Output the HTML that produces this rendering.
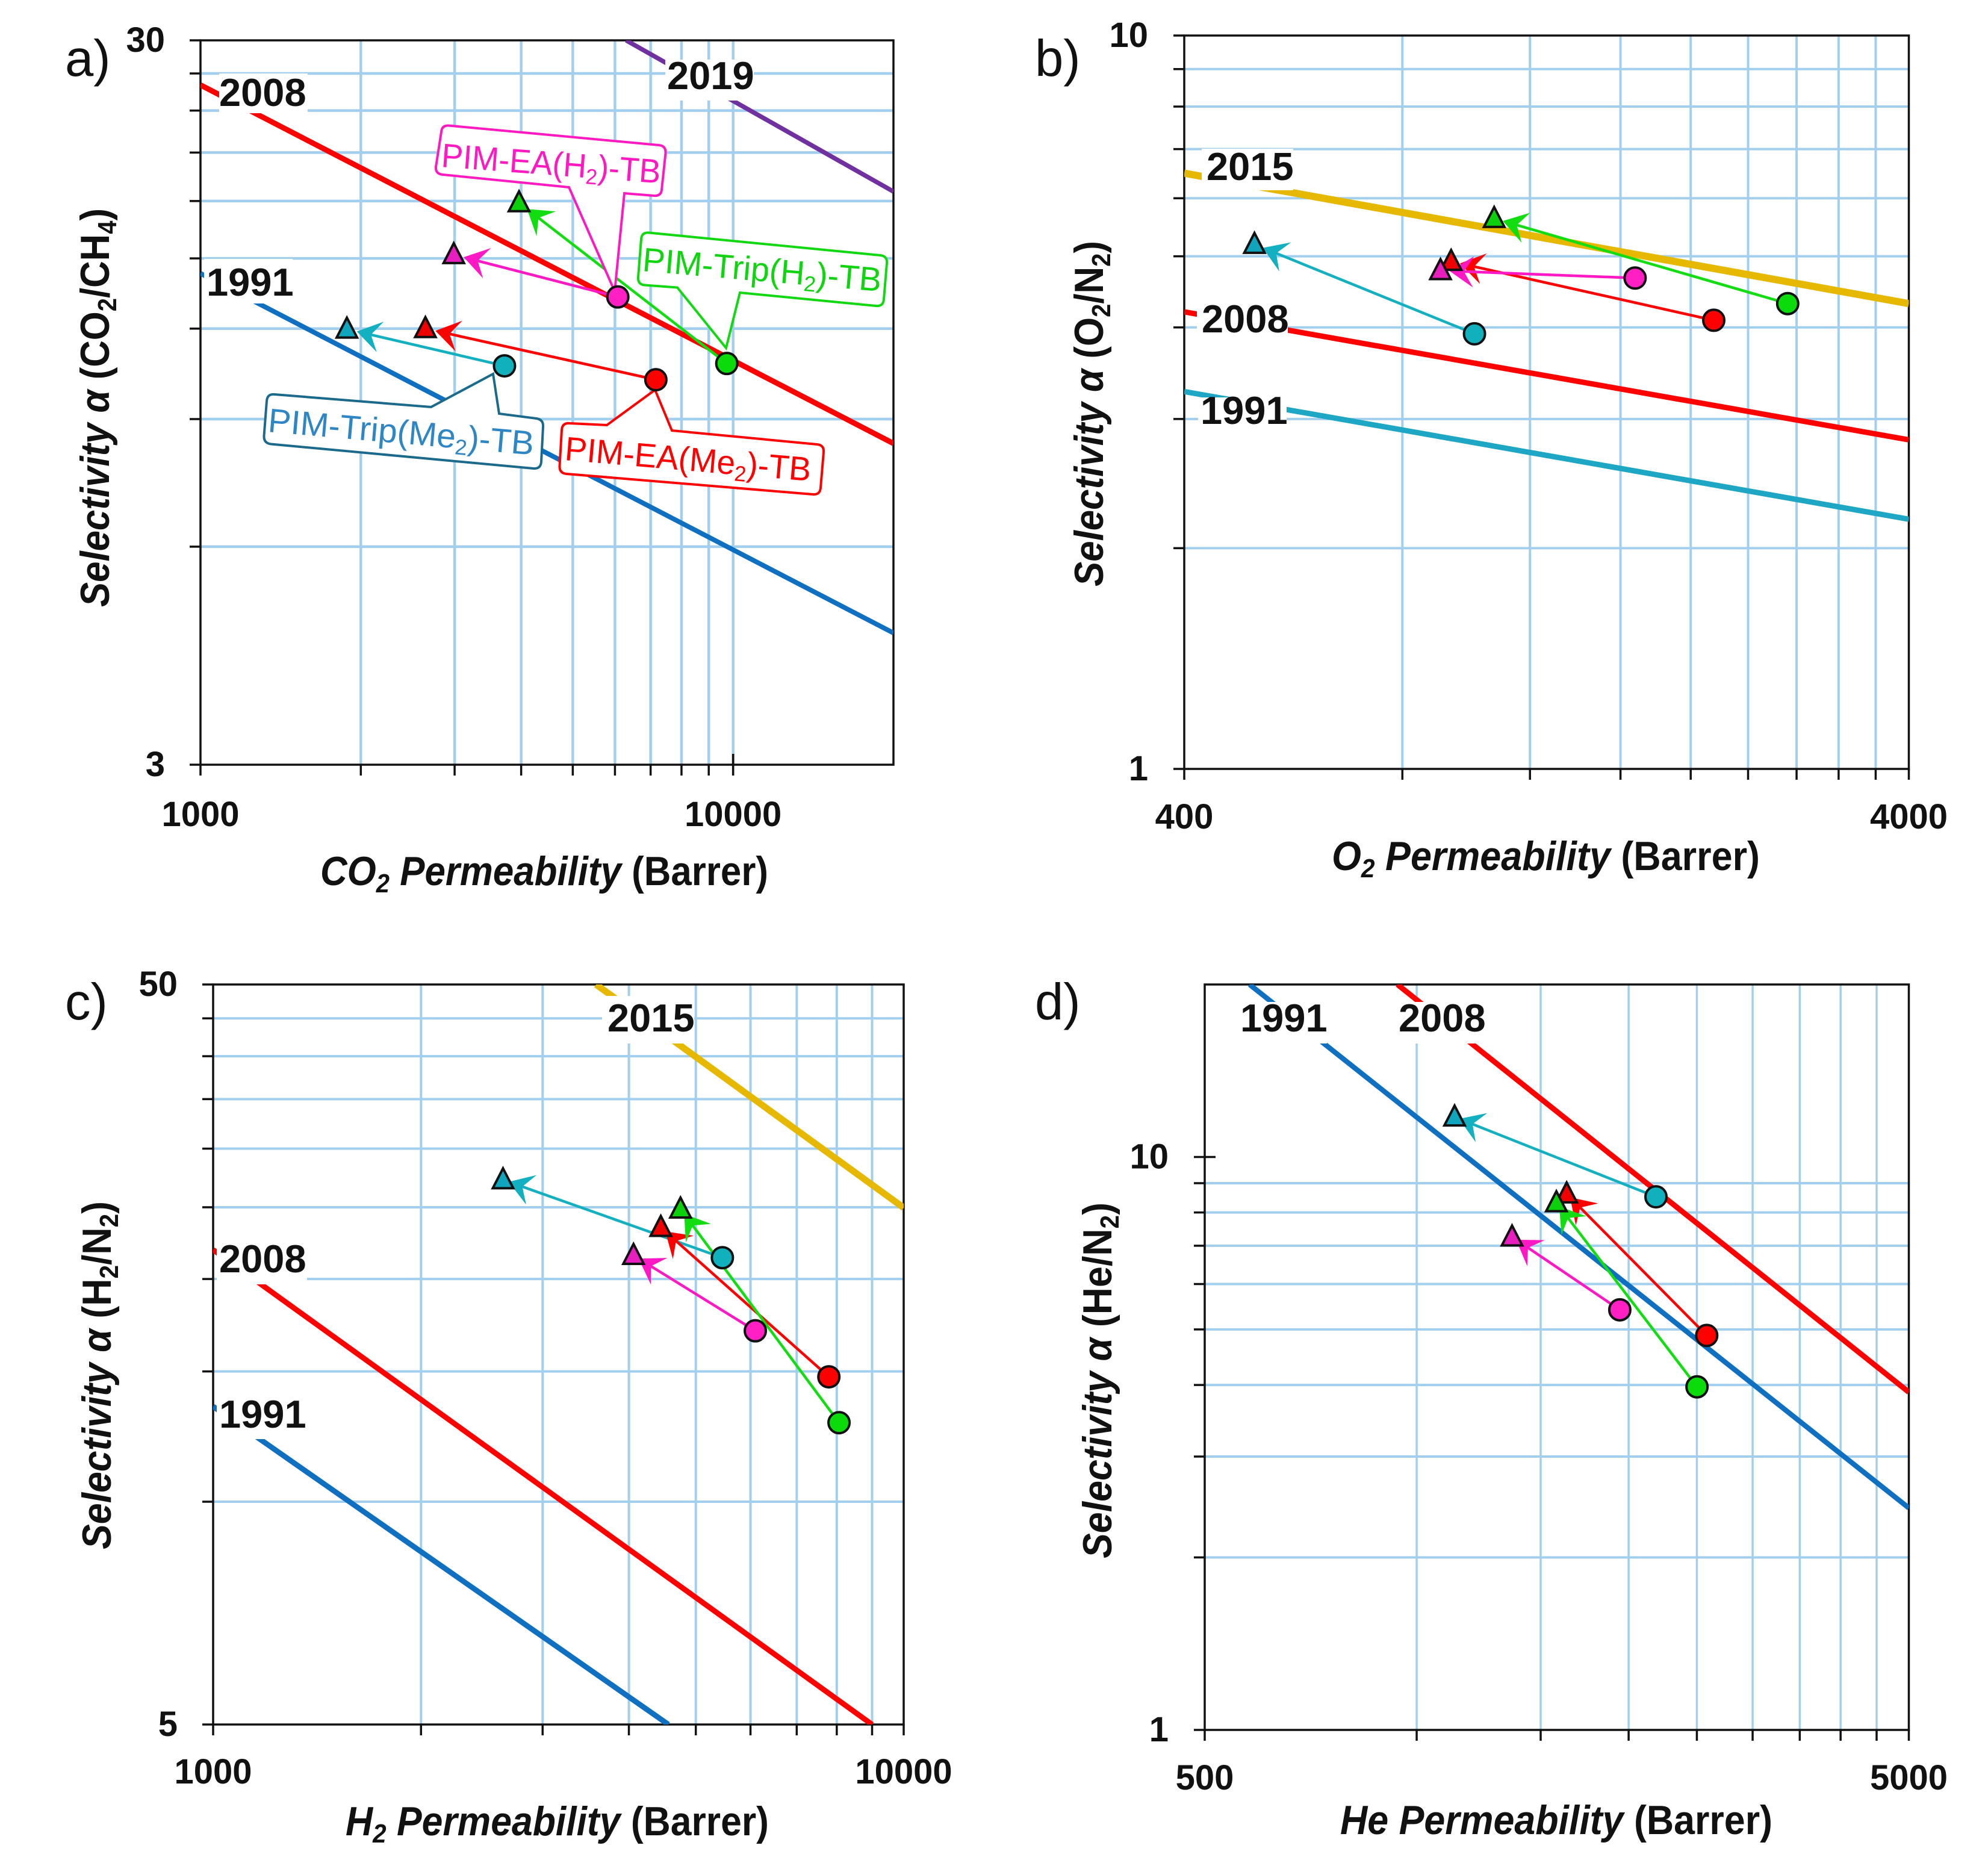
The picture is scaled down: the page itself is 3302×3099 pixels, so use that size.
<!DOCTYPE html>
<html>
<head>
<meta charset="utf-8">
<title>Permeability vs selectivity plots</title>
<style>
html,body{margin:0;padding:0;background:#fff;}
svg{display:block;}
text{font-family:"Liberation Sans",sans-serif;fill:#111;}
.tick{font-weight:bold;font-size:58px;}
.year{font-weight:bold;font-size:65px;}
.letter{font-size:85px;fill:#111;}
.title{font-weight:bold;font-size:68px;}
.title .it{font-style:italic;}
.call{font-size:56px;}
</style>
</head>
<body>
<svg xmlns="http://www.w3.org/2000/svg" width="3302" height="3099" viewBox="0 0 3302 3099">
<defs>
<clipPath id="clip-a"><rect x="333" y="67" width="1151" height="1203"/></clipPath>
<clipPath id="clip-b"><rect x="1967" y="59" width="1203.5" height="1218"/></clipPath>
<clipPath id="clip-c"><rect x="354" y="1635" width="1147" height="1229"/></clipPath>
<clipPath id="clip-d"><rect x="2001" y="1635" width="1169.5" height="1238"/></clipPath>
</defs>
<rect x="0" y="0" width="3302" height="3099" fill="#fff"/>

<!-- PANEL A -->
<g>
<g id="a-grid"></g>
<g id="a-lines" clip-path="url(#clip-a)"></g>
<g>
<rect x="1105" y="99" width="147" height="68" fill="#fff"/>
<rect x="364" y="122" width="147" height="66" fill="#fff"/>
<rect x="339" y="430" width="147" height="74" fill="#fff"/>
<text class="year" x="1108" y="148">2019</text>
<text class="year" x="364" y="176">2008</text>
<text class="year" x="343" y="491">1991</text>
</g>
<g id="a-arrows"></g>
<g>
<path d="M746,208.6 L1094,241 Q1106,242 1105.5,254 L1099,315 Q1098,326 1086,325 L1037,321 L1021,484 L945,311 L735,290 Q723,288.6 724,277 L733,219 Q734,207.6 746,208.6Z" fill="#fff" stroke="#ff19c0" stroke-width="4"/>
<text class="call" transform="translate(732,277) rotate(4.3)" textLength="365" lengthAdjust="spacingAndGlyphs" style="fill:#ff19c0">PIM-EA(H<tspan dy="10" font-size="36">2</tspan><tspan dy="-10">)-TB</tspan></text>
<path d="M1078,386.5 L1462,424 Q1474,425 1473,437 L1468,497 Q1467,509 1455,508 L1229,486 L1206,578 L1125,477.5 L1071,473.5 Q1059,472.5 1060,460 L1065,397 Q1066,385.5 1078,386.5Z" fill="#fff" stroke="#11d811" stroke-width="4"/>
<text class="call" transform="translate(1066,450) rotate(4.9)" textLength="398" lengthAdjust="spacingAndGlyphs" style="fill:#0fd40f">PIM-Trip(H<tspan dy="10" font-size="36">2</tspan><tspan dy="-10">)-TB</tspan></text>
<path d="M456,655 L716,676 L819,621 L829,687 L891,695 Q903,697 902,709 L899,767 Q898,779 886,778 L450,737.5 Q438,736 438.5,724 L443,666 Q444,654 456,655Z" fill="#fff" stroke="#1b6a8c" stroke-width="4"/>
<text class="call" transform="translate(444,717) rotate(5)" textLength="443" lengthAdjust="spacingAndGlyphs" style="fill:#2f86c5">PIM-Trip(Me<tspan dy="10" font-size="36">2</tspan><tspan dy="-10">)-TB</tspan></text>
<path d="M946,703 L1008,706 L1088,647.5 L1116,715 L1357,738 Q1369,739 1368,751 L1363,810 Q1362,822 1350,821 L941,787 Q929,786 929.5,774 L933,714 Q934,702 946,703Z" fill="#fff" stroke="#ff0000" stroke-width="4"/>
<text class="call" transform="translate(937,764) rotate(4.9)" textLength="410" lengthAdjust="spacingAndGlyphs" style="fill:#ff0000">PIM-EA(Me<tspan dy="10" font-size="36">2</tspan><tspan dy="-10">)-TB</tspan></text>
</g>
<g id="a-markers"></g>
<text class="letter" x="108" y="126">a)</text>
<text class="title" x="532" y="1470" textLength="744" lengthAdjust="spacingAndGlyphs"><tspan class="it">CO</tspan><tspan class="it" dy="12" font-size="44">2</tspan><tspan class="it" dy="-12"> Permeability</tspan> (Barrer)</text>
<text class="title" transform="translate(181,1008) rotate(-90)" textLength="662" lengthAdjust="spacingAndGlyphs"><tspan class="it">Selectivity α</tspan> (CO<tspan dy="12" font-size="44">2</tspan><tspan dy="-12">/CH</tspan><tspan dy="12" font-size="44">4</tspan><tspan dy="-12">)</tspan></text>
</g>

<!-- PANEL B -->
<g>
<g id="b-grid"></g>
<g id="b-lines" clip-path="url(#clip-b)"></g>
<g>
<rect x="1996" y="247" width="152" height="69" fill="#fff"/>
<rect x="1988" y="509" width="151" height="60" fill="#fff"/>
<rect x="1990" y="660" width="147" height="57" fill="#fff"/>
<text class="year" x="2004" y="299">2015</text>
<text class="year" x="1996" y="552">2008</text>
<text class="year" x="1994" y="704">1991</text>
</g>
<g id="b-arrows"></g>
<g id="b-markers"></g>
<text class="letter" x="1719" y="126">b)</text>
<text class="title" x="2212" y="1445" textLength="711" lengthAdjust="spacingAndGlyphs"><tspan class="it">O</tspan><tspan class="it" dy="12" font-size="44">2</tspan><tspan class="it" dy="-12"> Permeability</tspan> (Barrer)</text>
<text class="title" transform="translate(1832,974) rotate(-90)" textLength="574" lengthAdjust="spacingAndGlyphs"><tspan class="it">Selectivity α</tspan> (O<tspan dy="12" font-size="44">2</tspan><tspan dy="-12">/N</tspan><tspan dy="12" font-size="44">2</tspan><tspan dy="-12">)</tspan></text>
</g>

<!-- PANEL C -->
<g>
<g id="c-grid"></g>
<g id="c-lines" clip-path="url(#clip-c)"></g>
<g>
<rect x="1000" y="1654" width="153" height="79" fill="#fff"/>
<rect x="360" y="2069" width="150" height="64" fill="#fff"/>
<rect x="360" y="2326" width="150" height="64" fill="#fff"/>
<text class="year" x="1009" y="1713">2015</text>
<text class="year" x="364" y="2113">2008</text>
<text class="year" x="364" y="2371">1991</text>
</g>
<g id="c-arrows"></g>
<g id="c-markers"></g>
<text class="letter" x="108" y="1693">c)</text>
<text class="title" x="574" y="3048" textLength="703" lengthAdjust="spacingAndGlyphs"><tspan class="it">H</tspan><tspan class="it" dy="12" font-size="44">2</tspan><tspan class="it" dy="-12"> Permeability</tspan> (Barrer)</text>
<text class="title" transform="translate(184,2573) rotate(-90)" textLength="578" lengthAdjust="spacingAndGlyphs"><tspan class="it">Selectivity α</tspan> (H<tspan dy="12" font-size="44">2</tspan><tspan dy="-12">/N</tspan><tspan dy="12" font-size="44">2</tspan><tspan dy="-12">)</tspan></text>
</g>

<!-- PANEL D -->
<g>
<g id="d-grid"></g>
<g id="d-lines" clip-path="url(#clip-d)"></g>
<g>
<rect x="2056" y="1664" width="148" height="69" fill="#fff"/>
<rect x="2319" y="1664" width="147" height="69" fill="#fff"/>
<text class="year" x="2060" y="1713">1991</text>
<text class="year" x="2323" y="1713">2008</text>
</g>
<g id="d-arrows"></g>
<g id="d-markers"></g>
<text class="letter" x="1719" y="1693">d)</text>
<text class="title" x="2226" y="3046" textLength="718" lengthAdjust="spacingAndGlyphs"><tspan class="it">He Permeability</tspan> (Barrer)</text>
<text class="title" transform="translate(1846,2588) rotate(-90)" textLength="591" lengthAdjust="spacingAndGlyphs"><tspan class="it">Selectivity α</tspan> (He/N<tspan dy="12" font-size="44">2</tspan><tspan dy="-12">)</tspan></text>
</g>
</svg>

<script>
// Series order everywhere: Trip(Me2), EA(Me2), EA(H2), Trip(H2)
const seriesNames = ['pim-trip-me2', 'pim-ea-me2', 'pim-ea-h2', 'pim-trip-h2'];

// ---- Panel a: CO2/CH4 ----
const aXGrid = [2000, 3000, 4000, 5000, 6000, 7000, 8000, 9000, 10000];
const aYGrid = [27, 24, 21, 18, 15, 12, 9, 6];
const aXLabels = [1000, 10000];
const aYLabels = [30, 3];
const a2019X = [6297, 20000];
const a2019Y = [30, 18.55];
const a2008X = [1000, 20000];
const a2008Y = [26.03, 8.33];
const a1991X = [1000, 20000];
const a1991Y = [14.3, 4.56];
const aCircleX = [3722, 7161, 6075, 9730];
const aCircleY = [10.66, 10.2, 13.27, 10.74];
const aTriangleX = [1883, 2644, 2989, 3963];
const aTriangleY = [11.98, 12.0, 15.18, 17.9];

// ---- Panel b: O2/N2 ----
const bXGrid = [800, 1200, 1600, 2000, 2400, 2800, 3200, 3600];
const bYGrid = [9, 8, 7, 6, 5, 4, 3, 2];
const bXLabels = [400, 4000];
const bYLabels = [10, 1];
const b2015X = [400, 4000];
const b2015Y = [6.49, 4.31];
const b2008X = [400, 4000];
const b2008Y = [4.2, 2.81];
const b1991X = [400, 4000];
const b1991Y = [3.27, 2.19];
const bCircleX = [1006, 2152, 1676, 2722];
const bCircleY = [3.92, 4.09, 4.67, 4.31];
const bTriangleX = [500, 934, 903, 1071];
const bTriangleY = [5.19, 4.92, 4.78, 5.63];

// ---- Panel c: H2/N2 ----
const cXGrid = [2000, 3000, 4000, 5000, 6000, 7000, 8000, 9000];
const cYGrid = [45, 40, 35, 30, 25, 20, 15, 10];
const cXLabels = [1000, 10000];
const cYLabels = [50, 5];
const c2015X = [3586, 10000];
const c2015Y = [50, 24.96];
const c2008X = [1000, 8999];
const c2008Y = [21.9, 5];
const c1991X = [1000, 4563];
const c1991Y = [13.45, 5];
const cCircleX = [5463, 7792, 6097, 8060];
const cCircleY = [21.37, 14.75, 17.02, 12.79];
const cTriangleX = [2629, 4449, 4062, 4751];
const cTriangleY = [27.23, 23.48, 21.52, 24.86];

// ---- Panel d: He/N2 ----
const dXGrid = [1000, 1500, 2000, 2500, 3000, 3500, 4000, 4500];
const dYGrid = [9, 8, 7, 6, 5, 4, 3, 2];
const dXLabels = [500, 5000];
const dYLabels = [10, 1];
const d1991X = [579, 5000];
const d1991Y = [20, 2.44];
const d2008X = [939, 5000];
const d2008Y = [20, 3.886];
const dCircleX = [2187, 2582, 1943, 2501];
const dCircleY = [8.52, 4.88, 5.41, 3.97];
const dTriangleX = [1132, 1633, 1366, 1579];
const dTriangleY = [11.74, 8.62, 7.25, 8.32];

const NS = 'http://www.w3.org/2000/svg';
const circleFill = ['#10b0bd', '#ff0000', '#ff1fc3', '#0bdb0b'];
const triangleFill = ['#10a4bd', '#f00000', '#e81fbf', '#0bd00b'];
const arrowColor = ['#12b0c0', '#ff0000', '#ff19c4', '#11dd11'];

function mk(tag, parent, attrs) {
  const el = document.createElementNS(NS, tag);
  for (const k in attrs) el.setAttribute(k, attrs[k]);
  parent.appendChild(el);
  return el;
}

function drawPanel(p) {
  const xScale = v => p.left + Math.log10(v / p.xMin) / Math.log10(p.xMax / p.xMin) * (p.right - p.left);
  const yScale = v => p.top + Math.log10(p.yMax / v) / Math.log10(p.yMax / p.yMin) * (p.bottom - p.top);
  const grid = document.getElementById(p.id + '-grid');
  const lines = document.getElementById(p.id + '-lines');
  const arrows = document.getElementById(p.id + '-arrows');
  const markers = document.getElementById(p.id + '-markers');

  p.xGrid.forEach(v => {
    const gl = mk('line', grid, {x1: xScale(v), x2: xScale(v), y1: p.top, y2: p.bottom, stroke: '#a3cfee', 'stroke-width': p.gridV});
    
    
  });
  p.yGrid.forEach(v => {
    const gl = mk('line', grid, {x1: p.left, x2: p.right, y1: yScale(v), y2: yScale(v), stroke: '#a3cfee', 'stroke-width': p.gridH});
    
    
  });

  const frame = mk('rect', grid, {x: p.left, y: p.top, width: p.right - p.left, height: p.bottom - p.top, fill: 'none', stroke: '#111', 'stroke-width': 3.5});
  
  

  p.xGrid.concat(p.xLabels).forEach(v => {
    const isInner = p.xLabels.includes(v) && v !== p.xMin && v !== p.xMax;
    const tk = mk('line', grid, {x1: xScale(v), x2: xScale(v), y1: p.bottom - (isInner ? 18 : 0), y2: p.bottom + 18, stroke: '#111', 'stroke-width': 3.5});
    
    
  });
  p.yGrid.concat(p.yLabels).forEach(v => {
    const isInner = p.yLabels.includes(v) && v !== p.yMin && v !== p.yMax;
    const tk = mk('line', grid, {x1: p.left - 18, x2: p.left + (isInner ? 18 : 0), y1: yScale(v), y2: yScale(v), stroke: '#111', 'stroke-width': 3.5});
    
    
  });
  p.xLabels.forEach(v => {
    const t = mk('text', grid, {x: xScale(v), y: p.xLabelY, 'text-anchor': 'middle', class: 'tick'});
    t.textContent = String(v);
    
    
  });
  p.yLabels.forEach(v => {
    const t = mk('text', grid, {x: p.yLabelX, y: yScale(v) + 19, 'text-anchor': 'end', class: 'tick'});
    t.textContent = String(v);
    
    
  });

  p.bounds.forEach(b => {
    const pts = b.xs.map((v, i) => xScale(v) + ',' + yScale(b.ys[i])).join(' ');
    const ln = mk('polyline', lines, {points: pts, fill: 'none', stroke: b.color, 'stroke-width': b.width});
    
    
  });

  seriesNames.forEach((name, i) => {
    const sx = xScale(p.circleX[i]), sy = yScale(p.circleY[i]);
    const ex = xScale(p.triX[i]), ey = yScale(p.triY[i]);
    const dx = sx - ex, dy = sy - ey, len = Math.hypot(dx, dy) || 1;
    const ux = dx / len, uy = dy / len;
    const tipX = ex + ux * p.tipGap, tipY = ey + uy * p.tipGap;
    const shaft = mk('line', arrows, {x1: sx, y1: sy, x2: tipX + ux * 20, y2: tipY + uy * 20, stroke: arrowColor[i], 'stroke-width': 4.5});
    
    
    const bx = tipX + ux * 40, by = tipY + uy * 40;
    const nx = tipX + ux * 24, ny = tipY + uy * 24;
    const head = mk('polygon', arrows, {points: tipX + ',' + tipY + ' ' + (bx - uy * 26) + ',' + (by + ux * 26) + ' ' + nx + ',' + ny + ' ' + (bx + uy * 26) + ',' + (by - ux * 26), fill: arrowColor[i]});
    
    
  });

  seriesNames.forEach((name, i) => {
    const cx = xScale(p.triX[i]), cy = yScale(p.triY[i]);
    const tri = mk('polygon', markers, {points: cx + ',' + (cy - 19) + ' ' + (cx + 17) + ',' + (cy + 14) + ' ' + (cx - 17) + ',' + (cy + 14), fill: triangleFill[i], stroke: '#111', 'stroke-width': 4});
    
    
  });
  seriesNames.forEach((name, i) => {
    const c = mk('circle', markers, {cx: xScale(p.circleX[i]), cy: yScale(p.circleY[i]), r: 17.5, fill: circleFill[i], stroke: '#111', 'stroke-width': 4});
    
    
  });
}

drawPanel({id: 'a', left: 333, right: 1484, top: 67, bottom: 1270, xMin: 1000, xMax: 20000, yMax: 30, yMin: 3,
  xGrid: aXGrid, yGrid: aYGrid, xLabels: aXLabels, yLabels: aYLabels, xLabelY: 1372, yLabelX: 274, gridV: 4.5, gridH: 4.5, tipGap: 17,
  circleX: aCircleX, circleY: aCircleY, triX: aTriangleX, triY: aTriangleY,
  bounds: [{year: '2019', xs: a2019X, ys: a2019Y, color: '#7030a0', width: 7.5},
           {year: '2008', xs: a2008X, ys: a2008Y, color: '#ff0000', width: 9},
           {year: '1991', xs: a1991X, ys: a1991Y, color: '#0f6fc0', width: 8}]});

drawPanel({id: 'b', left: 1967, right: 3170.5, top: 59, bottom: 1277, xMin: 400, xMax: 4000, yMax: 10, yMin: 1,
  xGrid: bXGrid, yGrid: bYGrid, xLabels: bXLabels, yLabels: bYLabels, xLabelY: 1376, yLabelX: 1907, gridV: 4, gridH: 4, tipGap: 15,
  circleX: bCircleX, circleY: bCircleY, triX: bTriangleX, triY: bTriangleY,
  bounds: [{year: '2015', xs: b2015X, ys: b2015Y, color: '#e6b800', width: 12},
           {year: '2008', xs: b2008X, ys: b2008Y, color: '#ff0000', width: 9},
           {year: '1991', xs: b1991X, ys: b1991Y, color: '#1ea7c4', width: 9}]});

drawPanel({id: 'c', left: 354, right: 1501, top: 1635, bottom: 2864, xMin: 1000, xMax: 10000, yMax: 50, yMin: 5,
  xGrid: cXGrid, yGrid: cYGrid, xLabels: cXLabels, yLabels: cYLabels, xLabelY: 2962, yLabelX: 295, gridV: 4, gridH: 4, tipGap: 10,
  circleX: cCircleX, circleY: cCircleY, triX: cTriangleX, triY: cTriangleY,
  bounds: [{year: '2015', xs: c2015X, ys: c2015Y, color: '#e6b800', width: 11},
           {year: '2008', xs: c2008X, ys: c2008Y, color: '#ff0000', width: 9},
           {year: '1991', xs: c1991X, ys: c1991Y, color: '#0f6fc0', width: 9}]});

drawPanel({id: 'd', left: 2001, right: 3170.5, top: 1635, bottom: 2873, xMin: 500, xMax: 5000, yMax: 20, yMin: 1,
  xGrid: dXGrid, yGrid: dYGrid, xLabels: dXLabels, yLabels: dYLabels, xLabelY: 2972, yLabelX: 1941, gridV: 3.5, gridH: 4, tipGap: 8,
  circleX: dCircleX, circleY: dCircleY, triX: dTriangleX, triY: dTriangleY,
  bounds: [{year: '2008', xs: d2008X, ys: d2008Y, color: '#ff0000', width: 9},
           {year: '1991', xs: d1991X, ys: d1991Y, color: '#0f6fc0', width: 8.5}]});
</script>
</body>
</html>
